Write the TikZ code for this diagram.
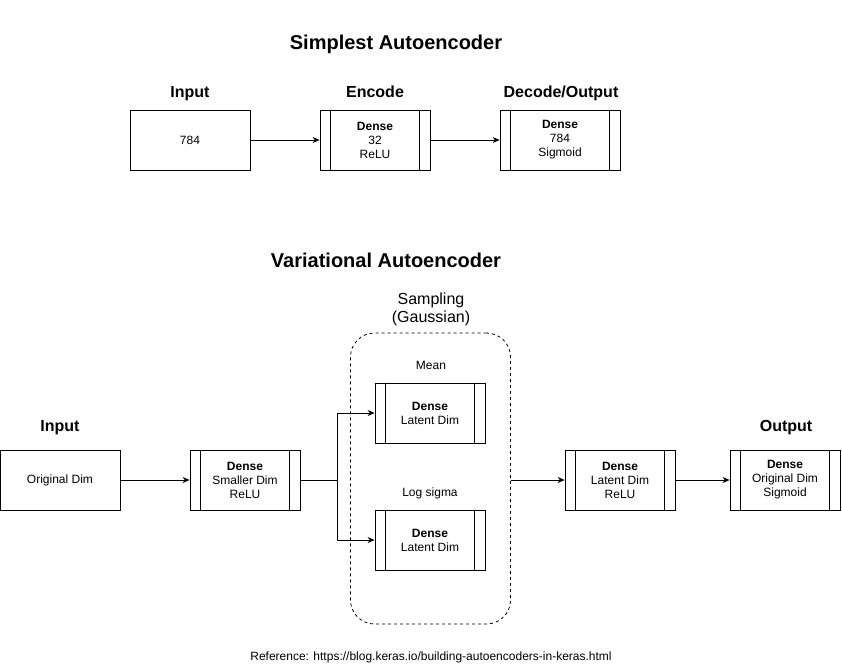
\documentclass[tikz,border=0pt]{standalone}
\usepackage{fontspec}
\setmainfont{Liberation Sans}
\usetikzlibrary{arrows.meta,positioning}

\tikzset{blk/.style={draw, rectangle, line width=0.8pt, minimum width=120pt, minimum height=60pt,
                     align=center, font=\fontsize{12}{14}\selectfont},
         proc/.style={blk, minimum width=110pt},
         ttl/.style={anchor=base, font=\bfseries\fontsize{20}{22}\selectfont},
         hdr/.style={anchor=base, font=\bfseries\fontsize{16}{18}\selectfont},
         lbl/.style={anchor=base, font=\fontsize{12}{14}\selectfont},
         arr/.style={line width=0.8pt, -{Stealth[length=7pt,width=6pt]}}}

\begin{document}
\begin{tikzpicture}[x=1pt,y=-1pt]
\useasboundingbox (0,0) rectangle (842,667);
% simplest autoencoder
\node[ttl] (ttlA) at (396,49) {Simplest Autoencoder};
\node[blk]  (inA) at (190,140) {784};
\node[proc] (enc) at (375,140) {\textbf{Dense}\\32\\ReLU};
\node[proc, minimum width=120pt] (dec) at (560,140) {\textbf{Dense}\\784\\Sigmoid};
\node[hdr] (hinA) at (190,97) {Input};
\node[hdr] (henc) at (375,97) {Encode};
\node[hdr] (hdec) at (561,97) {Decode/Output};
\draw[arr] (inA) -- (enc);
\draw[arr] (enc) -- (dec);
% variational autoencoder
\node[ttl] (ttlB) at (386,267) {Variational Autoencoder};
\node[draw, dashed, dash pattern=on 3pt off 3pt, line width=0.8pt, rounded corners=24pt,
      minimum width=160pt, minimum height=291pt] (samp) at (430.5,478.5) {};
\node[align=center, anchor=base, font=\fontsize{16}{17.5}\selectfont] (sampl) at (431,322) {Sampling\\(Gaussian)};
\node[blk]  (inB)   at (60,480)  {Original Dim};
\node[proc] (small) at (245,480) {\textbf{Dense}\\Smaller Dim\\ReLU};
\node[proc] (mean)  at (430,413) {\textbf{Dense}\\Latent Dim};
\node[proc] (logs)  at (430,540) {\textbf{Dense}\\Latent Dim};
\node[proc] (lat)   at (620,480) {\textbf{Dense}\\Latent Dim\\ReLU};
\node[proc] (out)   at (785,480) {\textbf{Dense}\\Original Dim\\Sigmoid};
\node[lbl] (lmean) at (431,369) {Mean};
\node[lbl] (llogs) at (430,496) {Log sigma};
\node[hdr] (hinB) at (60,431) {Input};
\node[hdr] (hout) at (786,431) {Output};
\coordinate (split) at (337,480);
\draw[line width=0.8pt] (small) -- (split);
\draw[arr] (split) |- (mean);
\draw[arr] (split) |- (logs);
\draw[arr] (inB) -- (small);
\draw[arr] (samp.east |- lat.west) -- (lat);
\draw[arr] (lat) -- (out);
% inner bars of the process boxes
\foreach \n in {enc,dec,small,mean,logs,lat,out}
  \draw[line width=0.8pt] ([xshift=11pt]\n.north west) -- ([xshift=11pt]\n.south west)
        ([xshift=-11pt]\n.north east) -- ([xshift=-11pt]\n.south east);
\node[lbl] (ref) at (431,660) {Reference: https://blog.keras.io/building-autoencoders-in-keras.html};
\end{tikzpicture}
\end{document}
